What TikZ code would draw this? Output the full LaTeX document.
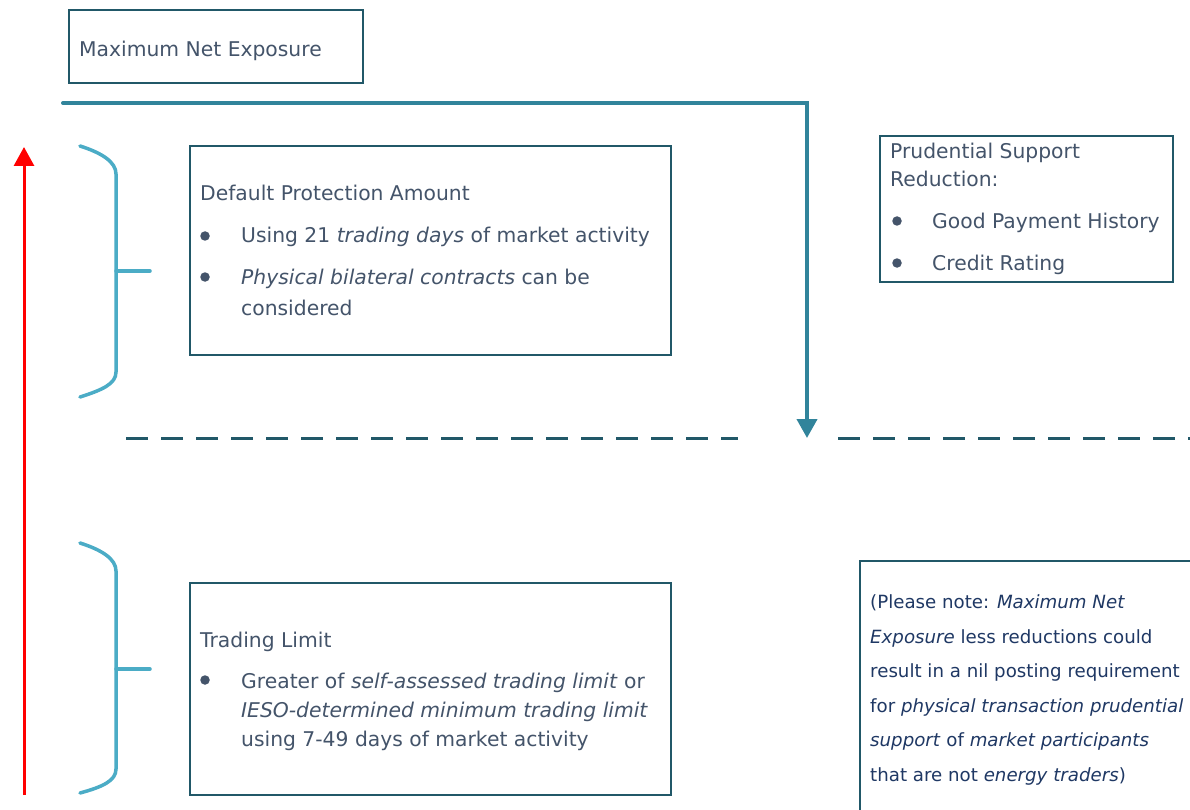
\documentclass[tikz,border=0pt]{standalone}
\usepackage{fontspec}
\setmainfont{DejaVu Sans}
\usetikzlibrary{arrows.meta}
\definecolor{txt}{HTML}{44546A}
\definecolor{notetxt}{HTML}{1F3864}
\definecolor{boxline}{HTML}{215868}
\definecolor{conn}{HTML}{31849B}
\definecolor{bracec}{HTML}{4BACC6}
\tikzset{
  box/.style={draw=boxline, line width=2.6pt, inner sep=0pt, outer sep=0pt, anchor=north west},
  lbl/.style={text=txt, anchor=base west, inner sep=0pt, font=\fontsize{20.3}{24}\selectfont},
  notelbl/.style={text=notetxt, anchor=base west, inner sep=0pt, font=\fontsize{18.2}{22}\selectfont},
  dot/.style={circle, fill=txt, minimum size=9.5pt, inner sep=0pt},
  connline/.style={draw=conn, line width=4pt, line cap=round, -{Triangle[width=20pt,length=19pt]}},
  redline/.style={draw=red, line width=3pt, -{Triangle[width=20pt,length=19pt]}},
  divider/.style={draw=boxline, line width=3pt, dash pattern=on 22pt off 13pt},
  bracket/.style={draw=bracec, line width=3.5pt, line cap=round},
}
\begin{document}
\begin{tikzpicture}[x=1pt,y=-1pt]
\path[use as bounding box] (0,0) rectangle (1190,810);
\clip (0,0) rectangle (1190,810);
\fill[white] (0,0) rectangle (1190,810);

% Maximum Net Exposure
\node[box, minimum width=294pt, minimum height=73pt] (mne) at (69,10) {};
\node[lbl] (mnet) at (79,57) {Maximum Net Exposure};

% connector
\coordinate (c0) at (63,103);
\coordinate (c1) at (807,103);
\coordinate (c2) at (807,438);
\draw[connline] (c0) -- (c1) -- (c2);

% red arrow
\coordinate (r0) at (24,795);
\coordinate (r1) at (24,147);
\draw[redline] (r0) -- (r1);

% dashed divider
\coordinate (d0) at (126,438);
\coordinate (d1) at (738,438);
\coordinate (d2) at (838,438);
\coordinate (d3) at (1195,438);
\draw[divider] (d0) -- (d1);
\draw[divider] (d2) -- (d3);

% braces
\draw[bracket] (80,146) .. controls (102,153) and (116,162) .. (116,174) -- (116,372) .. controls (116,384) and (102,390) .. (80,397);
\draw[bracket] (116,271) -- (150,271);
\draw[bracket] (80,543) .. controls (102,550) and (116,559) .. (116,571) -- (116,769) .. controls (116,781) and (102,787) .. (80,793);
\draw[bracket] (116,669) -- (150,669);

% Default Protection Amount
\node[box, minimum width=481pt, minimum height=209pt] (dpa) at (190,146) {};
\node[lbl] (dpat) at (200,201) {Default Protection Amount};
\node[dot] (dpb1) at (205,236) {};
\node[lbl] (dpl1) at (241,243) {Using 21 \textit{trading days} of market activity};
\node[dot] (dpb2) at (205,277) {};
\node[lbl] (dpl2) at (241,284) {\textit{Physical bilateral contracts} can be};
\node[lbl] (dpl3) at (241,315) {considered};

% Prudential Support Reduction
\node[box, minimum width=293pt, minimum height=146pt] (psr) at (880,136) {};
\node[lbl] (psrt1) at (890,159) {Prudential Support};
\node[lbl] (psrt2) at (890,187) {Reduction:};
\node[dot] (psb1) at (897,221) {};
\node[lbl] (psl1) at (932,229) {Good Payment History};
\node[dot] (psb2) at (897,263) {};
\node[lbl] (psl2) at (932,270) {Credit Rating};

% Trading Limit
\node[box, minimum width=481pt, minimum height=212pt] (tl) at (190,583) {};
\node[lbl] (tlt) at (200,647) {Trading Limit};
\node[dot] (tlb1) at (205,680) {};
\node[lbl] (tll1) at (241,688) {Greater of \textit{self-assessed trading limit} or};
\node[lbl] (tll2) at (241,717) {\textit{IESO-determined minimum trading limit}};
\node[lbl] (tll3) at (241,746) {using 7-49 days of market activity};

% Note
\draw[draw=boxline, line width=2.6pt] (1200,561) -- (860,561) -- (860,820);
\node[notelbl] (n1) at (870,608) {(Please note: \textit{Maximum Net}};
\node[notelbl] (n2) at (870,643) {\textit{Exposure} less reductions could};
\node[notelbl] (n3) at (870,677) {result in a nil posting requirement};
\node[notelbl] (n4) at (870,712) {for \textit{physical transaction prudential}};
\node[notelbl] (n5) at (870,746) {\textit{support} of \textit{market participants}};
\node[notelbl] (n6) at (870,781) {that are not \textit{energy traders})};
\end{tikzpicture}
\end{document}
